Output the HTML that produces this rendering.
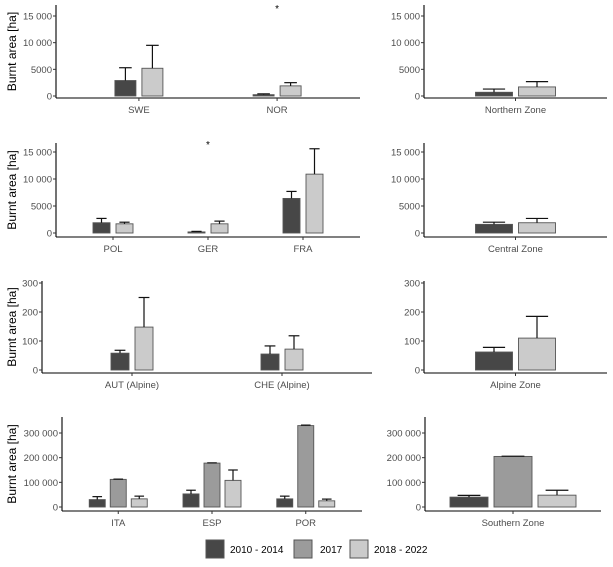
<!DOCTYPE html>
<html><head><meta charset="utf-8"><style>
html,body{margin:0;padding:0;background:#fff}
svg{display:block;font-family:"Liberation Sans",Arial,sans-serif}
</style></head><body>
<svg id="c" width="613" height="567" viewBox="0 0 613 567"></svg>
<script>
// ---- data ----
const seriesNames = ["2010 - 2014","2017","2018 - 2022"];
const row1Cats = ["SWE","NOR"];
const row1Mean = [[2900,5200],[250,1900]];
const row1Err  = [[5300,9500],[400,2500]];
const northCats = ["Northern Zone"];
const northMean = [[700,1700]];
const northErr  = [[1300,2700]];
const row2Cats = ["POL","GER","FRA"];
const row2Mean = [[1900,1700],[200,1700],[6400,10900]];
const row2Err  = [[2700,2000],[300,2200],[7700,15600]];
const centralCats = ["Central Zone"];
const centralMean = [[1600,1900]];
const centralErr  = [[2000,2700]];
const row3Cats = ["AUT (Alpine)","CHE (Alpine)"];
const row3Mean = [[58,148],[55,72]];
const row3Err  = [[68,250],[83,118]];
const alpineCats = ["Alpine Zone"];
const alpineMean = [[62,110]];
const alpineErr  = [[78,185]];
const row4Cats = ["ITA","ESP","POR"];
const row4Mean = [[30000,112000,33000],[53000,178000,25000*0+108000],[33000,330000,25000]];
const row4Err  = [[42000,113000,44000],[68000,179000,150000],[44000,332000,32000]];
const southCats = ["Southern Zone"];
const southMean = [[40000,205000,48000]];
const southErr  = [[47000,206000,68000]];
const ticksThousands = [0,5000,10000,15000];
const ticksHundreds = [0,100,200,300];
const ticksSouth = [0,100000,200000,300000];
const asteriskRow1 = ["NOR"];
const asteriskRow2 = ["GER"];
const asteriskValue = 16500;

const NS="http://www.w3.org/2000/svg";
const svg=document.getElementById('c');
function mk(tag,attrs,parent){const e=document.createElementNS(NS,tag);for(const k in attrs)e.setAttribute(k,attrs[k]);(parent||svg).appendChild(e);return e;}
function fmt(v){if(v<10000)return String(v);const s=String(v);return s.replace(/\B(?=(\d{3})+(?!\d))/g,"\u2009").replace(/\u2009/g," ");}
const fills3=["#474747","#9b9b9b","#cbcbcb"];
const fills2=["#474747","#cbcbcb"];

function panel(p){
  const g=mk('g',{});
  
  
  const y=v=>p.y0-(v/p.ymax)*(p.y0-p.yTop);
  const n=p.cats.length;
  const unit=(p.xR-p.xL)/(n-1+1.2);
  const xc=i=>p.xL+unit*(0.6+i);
  // axes
  const ya=mk('line',{x1:p.xL,y1:p.top,x2:p.xL,y2:p.bottom,stroke:"#000","stroke-width":1.1},g);
  
  
  const xa=mk('line',{x1:p.xL,y1:p.bottom,x2:p.xR,y2:p.bottom,stroke:"#000","stroke-width":1.1},g);
  
  
  p.ticks.forEach(t=>{
    mk('line',{x1:p.xL-3,x2:p.xL,y1:y(t),y2:y(t),stroke:"#333"},g);
    const tx=mk('text',{x:p.xL-4,y:y(t)+3.5,"text-anchor":"end","font-size":9.5,fill:"#4d4d4d"},g);
    tx.textContent=fmt(t);
    
    
  });
  p.cats.forEach((c,i)=>{
    const cx=xc(i);
    mk('line',{x1:cx,x2:cx,y1:p.bottom,y2:p.bottom+3,stroke:"#333"},g);
    const tx=mk('text',{x:cx,y:p.bottom+15,"text-anchor":"middle","font-size":9.5,fill:"#4d4d4d"},g);
    tx.textContent=c;
    
    
    const m=p.mean[i],e=p.err[i],k=m.length;
    m.forEach((v,j)=>{
      const bx=cx+(j-(k-1)/2)*p.step-p.bw/2;
      const fill=(k===3?fills3:fills2)[j];
      const r=mk('rect',{x:bx,y:y(v),width:p.bw,height:Math.max(0.8,y(0)-y(v)),fill:fill,stroke:"#555","stroke-width":0.9},g);
      
      
      const mx=bx+p.bw/2;
      mk('line',{x1:mx,x2:mx,y1:y(v),y2:y(e[j]),stroke:"#111","stroke-width":1.2},g);
      mk('line',{x1:mx-p.bw*0.3,x2:mx+p.bw*0.3,y1:y(e[j]),y2:y(e[j]),stroke:"#111","stroke-width":1.2},g);
    });
    if(p.ast && p.ast.includes(c)){
      const a=mk('text',{x:cx,y:y(asteriskValue)+4,"text-anchor":"middle","font-size":10,fill:"#000"},g);
      a.textContent="*";
      
      
    }
  });
  if(p.ytitle){
    const mid=(p.top+p.bottom)/2;
    const t=mk('text',{x:0,y:0,transform:`translate(16,${mid}) rotate(-90)`,"text-anchor":"middle","font-size":12,fill:"#000"},g);
    t.textContent="Burnt area [ha]";
    
    
  }
}
panel({name:'panel-north-countries',cats:row1Cats,mean:row1Mean,err:row1Err,xL:56,xR:360,top:5,bottom:98,y0:96,yTop:16,ymax:15000,ticks:ticksThousands,bw:21,step:27,ytitle:true,ast:asteriskRow1});
panel({name:'panel-northern-zone',cats:northCats,mean:northMean,err:northErr,xL:424,xR:607,top:5,bottom:98,y0:96,yTop:16,ymax:15000,ticks:ticksThousands,bw:37,step:43});
panel({name:'panel-central-countries',cats:row2Cats,mean:row2Mean,err:row2Err,xL:56,xR:360,top:143,bottom:237,y0:233,yTop:152,ymax:15000,ticks:ticksThousands,bw:17,step:23,ytitle:true,ast:asteriskRow2});
panel({name:'panel-central-zone',cats:centralCats,mean:centralMean,err:centralErr,xL:424,xR:607,top:143,bottom:237,y0:233,yTop:152,ymax:15000,ticks:ticksThousands,bw:37,step:43});
panel({name:'panel-alpine-countries',cats:row3Cats,mean:row3Mean,err:row3Err,xL:42,xR:372,top:281,bottom:373,y0:370,yTop:283,ymax:300,ticks:ticksHundreds,bw:18,step:24,ytitle:true});
panel({name:'panel-alpine-zone',cats:alpineCats,mean:alpineMean,err:alpineErr,xL:424,xR:607,top:281,bottom:373,y0:370,yTop:283,ymax:300,ticks:ticksHundreds,bw:37,step:43});
panel({name:'panel-south-countries',cats:row4Cats,mean:row4Mean,err:row4Err,xL:62,xR:362,top:417,bottom:511,y0:507,yTop:433,ymax:300000,ticks:ticksSouth,bw:16,step:21,ytitle:true});
panel({name:'panel-southern-zone',cats:southCats,mean:southMean,err:southErr,xL:425,xR:601,top:417,bottom:511,y0:507,yTop:433,ymax:300000,ticks:ticksSouth,bw:38,step:44});

// legend
const legX=[206,294,350], legTX=[230,320,374];
seriesNames.forEach((s,i)=>{
  const r=mk('rect',{x:legX[i],y:540,width:18,height:18,fill:fills3[i],stroke:"#555","stroke-width":1});
  
  
  const t=mk('text',{x:legTX[i],y:553,"font-size":10,fill:"#000"});
  t.textContent=s;
  
  
});
</script>
</body></html>
